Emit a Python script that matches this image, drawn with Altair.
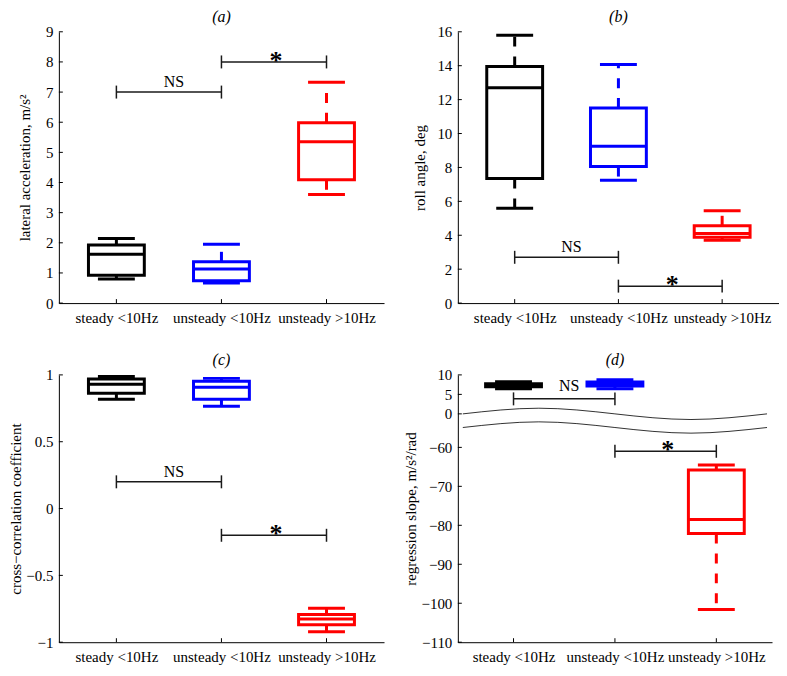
import altair as alt
import pandas as pd

# ---------------- data ----------------
CATS = ["steady <10Hz", "unsteady <10Hz", "unsteady >10Hz"]
COLORS = ["#000000", "#0000ff", "#ff0000"]
POS = [1, 2, 3]
SIG_LABELS = ["NS", "*"]
SIG_X1 = [1, 2]
SIG_X2 = [2, 3]

# (a) lateral acceleration
A_LO = [0.80, 0.67, 3.60]
A_Q1 = [0.92, 0.74, 4.09]
A_MED = [1.62, 1.13, 5.35]
A_Q3 = [1.93, 1.37, 5.98]
A_HI = [2.14, 1.95, 7.33]
A_SIG_Y = [7.0, 8.0]
A_TICKS = [0, 1, 2, 3, 4, 5, 6, 7, 8, 9]

# (b) roll angle
B_LO = [5.60, 7.25, 3.70]
B_Q1 = [7.35, 8.05, 3.88]
B_MED = [12.70, 9.25, 4.10]
B_Q3 = [13.95, 11.50, 4.56]
B_HI = [15.80, 14.07, 5.44]
B_SIG_Y = [2.7, 1.0]
B_TICKS = [0, 2, 4, 6, 8, 10, 12, 14, 16]

# (c) cross-correlation coefficient
C_LO = [0.817, 0.766, -0.922]
C_Q1 = [0.862, 0.817, -0.870]
C_MED = [0.930, 0.908, -0.826]
C_Q3 = [0.970, 0.953, -0.792]
C_HI = [0.988, 0.974, -0.746]
C_SIG_Y = [0.2, -0.2]
C_TICKS = [-1, -0.5, 0, 0.5, 1]

# (d) regression slope (broken axis)
D_LO = [6.46, 6.46, -101.6]
D_Q1 = [6.97, 7.15, -82.1]
D_MED = [7.40, 7.60, -78.5]
D_Q3 = [7.74, 8.18, -65.8]
D_HI = [8.26, 8.77, -64.5]
D_SIG_Y = [3.85, -61.0]
D_TICKS = [10, 5, 0, -60, -70, -80, -90, -100, -110]
D_BREAK_SHIFT = 51.4          # values below the break are shifted up by this
WAVE_X = [0.5, 1.25, 2.0, 2.75, 3.5]
WAVE_Y = [0.0, 1.45, 0.0, -1.45, 0.0]
WAVE_GAP = 3.5

FONT = "Liberation Serif"
FS = 15
BOX_W = 56
CAP_W = 37
LW = 3


def brk(v):
    return v + D_BREAK_SHIFT if v < -30 else v


def cat_expr():
    e = "''"
    for p, c in reversed(list(zip(POS, CATS))):
        e = f"datum.value == {p} ? '{c}' : ({e})"
    return e


def panel(letter, lo, q1, med, q3, hi, sig_y, tick_pos, domain, ytitle,
          title_x, w, h, label_expr, wave=False, ns_dy=-5):
    box = pd.DataFrame({"pos": POS, "col": COLORS, "lo": lo, "q1": q1,
                        "med": med, "q3": q3, "hi": hi})
    sig = pd.DataFrame({"x1": SIG_X1, "x2": SIG_X2, "y": sig_y,
                        "label": SIG_LABELS})
    ends = pd.DataFrame({"x": SIG_X1 + SIG_X2, "y": list(sig_y) + list(sig_y)})
    yt = pd.DataFrame({"v": tick_pos})
    xt = pd.DataFrame({"v": POS})

    xs = alt.Scale(domain=[0.5, 3.5], nice=False, zero=False)
    ys = alt.Scale(domain=domain, nice=False, zero=False)
    xaxis = alt.Axis(values=POS, labelExpr=cat_expr(), title=None, ticks=False,
                     tickSize=0, labelPadding=7, grid=False, labelFlush=False,
                     labelOverlap=False)
    yaxis = alt.Axis(values=tick_pos, title=ytitle, titleX=title_x, titleAngle=270,
                     titleBaseline="bottom", titleAlign="center", ticks=False,
                     tickSize=0, labelPadding=6, grid=False, labelFlush=False,
                     labelOverlap=False, zindex=0, labelExpr=label_expr)

    def X(f):
        return alt.X(f, type="quantitative", scale=xs, axis=xaxis)

    def Y(f):
        return alt.Y(f, type="quantitative", scale=ys, axis=yaxis)

    col = alt.Color("col:N", scale=None)
    b = alt.Chart(box)
    layers = []

    if wave:
        wdf = pd.DataFrame({"x": WAVE_X, "y": WAVE_Y})
        wc = alt.Chart(wdf).transform_calculate(ylo=f"datum.y - {WAVE_GAP}")
        layers.append(wc.mark_area(interpolate="natural", fill="white",
                                   stroke="white", strokeWidth=2)
                      .encode(x=X("x"), y=Y("y"), y2="ylo:Q"))

    # inward ticks
    layers.append(alt.Chart(yt).mark_rule(color="black", strokeWidth=1)
                  .encode(y=Y("v"), x=alt.value(0), x2=alt.value(4)))
    layers.append(alt.Chart(xt).mark_rule(color="black", strokeWidth=1)
                  .encode(x=X("v"), y=alt.value(h), y2=alt.value(h - 4)))

    if wave:
        layers.append(wc.mark_line(interpolate="natural", color="#333333", strokeWidth=1)
                      .encode(x=X("x"), y=Y("y")))
        layers.append(wc.mark_line(interpolate="natural", color="#333333", strokeWidth=1)
                      .encode(x=X("x"), y=Y("ylo:Q")))

    layers += [
        b.mark_rule(strokeWidth=LW, strokeDash=[10, 10]).encode(
            x=X("pos"), y=Y("q3"), y2="hi:Q", color=col),
        b.mark_rule(strokeWidth=LW, strokeDash=[10, 10]).encode(
            x=X("pos"), y=Y("q1"), y2="lo:Q", color=col),
        b.mark_bar(width=BOX_W, fillOpacity=0, strokeWidth=LW).encode(
            x=X("pos"), y=Y("q1"), y2="q3:Q", stroke=alt.Stroke("col:N", scale=None)),
        b.mark_tick(orient="horizontal", size=BOX_W, thickness=LW, opacity=1).encode(
            x=X("pos"), y=Y("med"), color=col),
        b.mark_tick(orient="horizontal", size=CAP_W, thickness=LW, opacity=1).encode(
            x=X("pos"), y=Y("hi"), color=col),
        b.mark_tick(orient="horizontal", size=CAP_W, thickness=LW, opacity=1).encode(
            x=X("pos"), y=Y("lo"), color=col),
        alt.Chart(sig).mark_rule(color="#1a1a1a", strokeWidth=1.5).encode(
            x=X("x1"), x2="x2:Q", y=Y("y")),
        alt.Chart(ends).mark_tick(orient="vertical", size=13, thickness=1.5,
                                  opacity=1, color="#1a1a1a").encode(x=X("x"), y=Y("y")),
        alt.Chart(sig).transform_filter("datum.label == 'NS'")
        .transform_calculate(mx="(datum.x1 + datum.x2) / 2")
        .mark_text(font=FONT, fontSize=16, dx=5, dy=ns_dy, baseline="alphabetic",
                   align="center", color="black")
        .encode(x=X("mx:Q"), y=Y("y"), text="label:N"),
        alt.Chart(sig).transform_filter("datum.label == '*'")
        .transform_calculate(mx="(datum.x1 + datum.x2) / 2")
        .mark_text(font=FONT, fontSize=26, fontWeight="bold", dx=2, dy=7,
                   baseline="alphabetic", align="center", color="black")
        .encode(x=X("mx:Q"), y=Y("y"), text="label:N"),
    ]

    return alt.layer(*layers).properties(
        width=w, height=h,
        title=alt.TitleParams(text=f"({letter})", font=FONT, fontSize=16,
                              fontStyle="italic", fontWeight="normal",
                              color="black", offset=0, anchor="middle"),
    )


MINUS = "replace({}, '-', '\u2212')"
ab_expr = MINUS.format("format(datum.value, 'd')")
c_expr = MINUS.format("format(datum.value, '~g')")
d_expr = MINUS.format(f"(datum.value < -1 ? format(datum.value - {D_BREAK_SHIFT}, '.0f') "
                      f": format(datum.value, '.0f'))")

pa = panel("a", A_LO, A_Q1, A_MED, A_Q3, A_HI, A_SIG_Y, A_TICKS, [0, 9],
           "lateral acceleration, m/s²", -26, 326, 272, ab_expr)
pb = panel("b", B_LO, B_Q1, B_MED, B_Q3, B_HI, B_SIG_Y, B_TICKS, [0, 16],
           "roll angle, deg", -30, 322, 272, ab_expr)
pc = panel("c", C_LO, C_Q1, C_MED, C_Q3, C_HI, C_SIG_Y, C_TICKS, [-1, 1],
           "cross\u2212correlation coefficient", -35, 326, 268, c_expr)
pd_ = panel("d", [brk(v) for v in D_LO], [brk(v) for v in D_Q1],
            [brk(v) for v in D_MED], [brk(v) for v in D_Q3],
            [brk(v) for v in D_HI], [brk(v) for v in D_SIG_Y],
            [brk(v) for v in D_TICKS], [brk(-110), 10],
            "regression slope, m/s²/rad", -39, 315, 268, d_expr,
            wave=True, ns_dy=-8)

chart = alt.concat(pa, pb, pc, pd_, columns=2, align="each",
                   spacing={"row": 27, "column": 20}).properties(
    padding=0, background="white"
).configure_view(stroke=None).configure_axis(
    labelFont=FONT, labelFontSize=FS, labelColor="black",
    titleFont=FONT, titleFontSize=FS, titleFontWeight="normal", titleColor="black",
    domainColor="black", domainWidth=1,
)

chart.save("out.html", embed_options={"renderer": "svg", "actions": False})
